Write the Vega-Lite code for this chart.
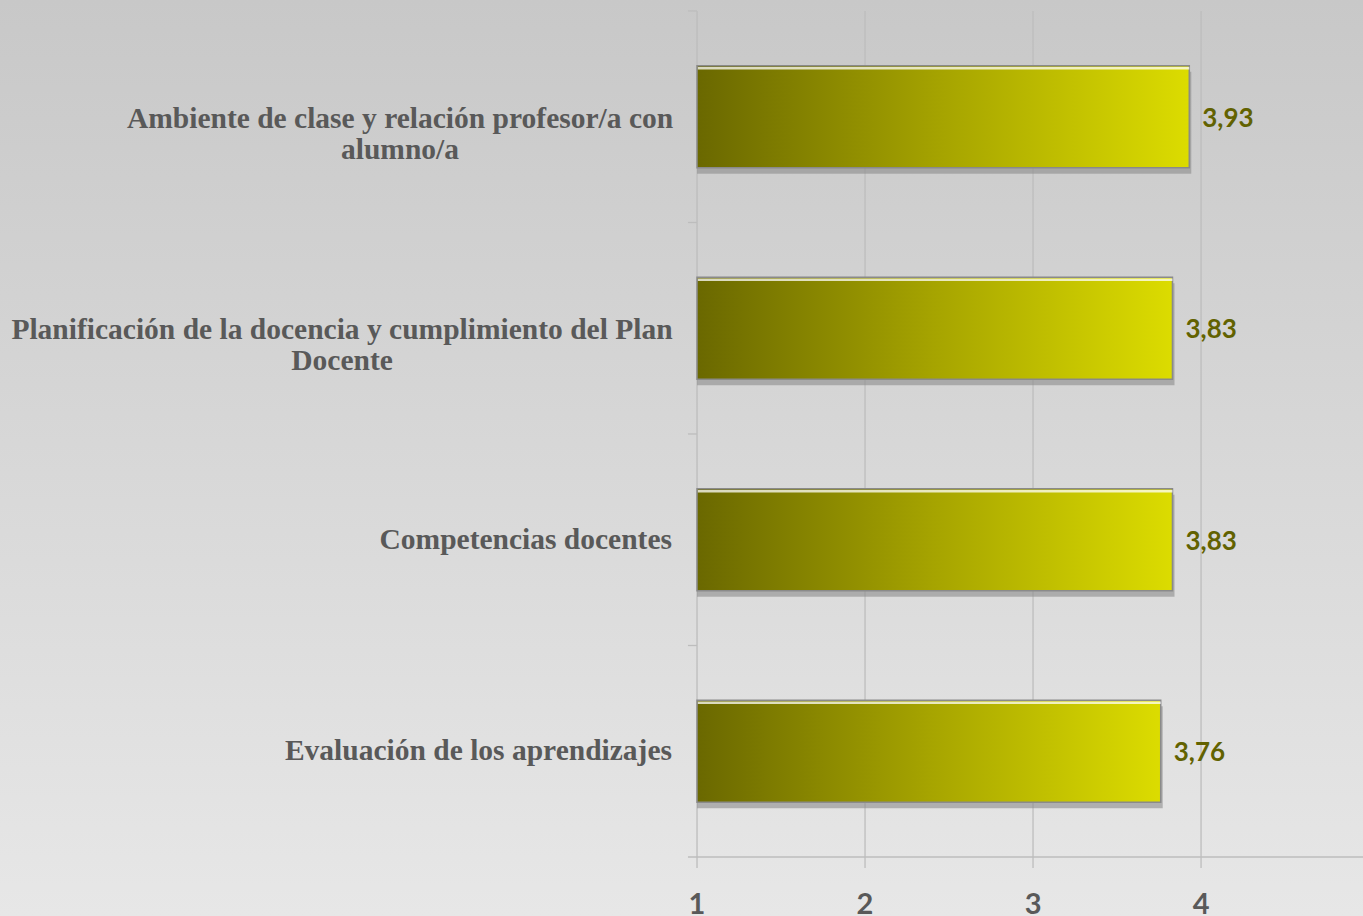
{
  "$schema": "https://vega.github.io/schema/vega-lite/v6.json",
  "width": 1363,
  "height": 916,
  "autosize": "none",
  "padding": 0,
  "background": "#e6e6e6",
  "config": {
    "view": {
      "stroke": null,
      "fill": {"gradient": "linear", "x1": 0, "y1": 0, "x2": 0, "y2": 1, "stops": [{"offset": 0, "color": "#c8c8c8"}, {"offset": 1, "color": "#e7e7e7"}]}
    },
    "axis": {"disable": true}
  },
  "datasets": {
    "bars": [
      {"category": "Ambiente de clase y relación profesor/a con|alumno/a", "value": 3.93, "label": "3,93"},
      {"category": "Planificación de la docencia y cumplimiento del Plan|Docente", "value": 3.83, "label": "3,83"},
      {"category": "Competencias docentes", "value": 3.83, "label": "3,83"},
      {"category": "Evaluación de los aprendizajes", "value": 3.76, "label": "3,76"}
    ],
    "grid": [{"g": 1}, {"g": 2}, {"g": 3}, {"g": 4}]
  },
  "encoding": {
    "y": {
      "field": "category", "type": "nominal", "sort": null, "axis": null,
      "scale": {"domain": [
        "Ambiente de clase y relación profesor/a con|alumno/a",
        "Planificación de la docencia y cumplimiento del Plan|Docente",
        "Competencias docentes",
        "Evaluación de los aprendizajes"
      ], "paddingInner": 0, "paddingOuter": 0.1655, "align": 0.157}
    },
    "x": {
      "field": "value", "type": "quantitative", "axis": null,
      "scale": {"domain": [-3.1488, 4.964], "nice": false, "zero": false}
    }
  },
  "layer": [
    {
      "data": {"name": "grid"},
      "mark": {"type": "rule", "color": "#bdbdbd", "strokeWidth": 1.3},
      "encoding": {
        "x": {"field": "g", "type": "quantitative"},
        "y": {"datum": "Ambiente de clase y relación profesor/a con|alumno/a", "type": "nominal", "bandPosition": 0},
        "y2": {"datum": "Evaluación de los aprendizajes", "bandPosition": 1.052}
      }
    },
    {
      "data": {"name": "bars"},
      "transform": [{"filter": "datum.category == 'Evaluación de los aprendizajes'"}],
      "mark": {"type": "rule", "color": "#bdbdbd", "strokeWidth": 1.3},
      "encoding": {
        "x": {"datum": 0.946},
        "x2": {"datum": 4.964},
        "y": {"field": "category", "type": "nominal", "bandPosition": 1}
      }
    },
    {
      "data": {"name": "bars"},
      "mark": {"type": "rule", "color": "#bdbdbd", "strokeWidth": 1.3},
      "encoding": {
        "x": {"datum": 0.946},
        "x2": {"datum": 1},
        "y": {"field": "category", "type": "nominal", "bandPosition": 0}
      }
    },
    {
      "data": {"name": "grid"},
      "mark": {"type": "text", "align": "center", "baseline": "alphabetic", "dy": 57, "font": "Lato", "fontWeight": "bold", "fontSize": 29, "color": "#595959"},
      "encoding": {
        "x": {"field": "g", "type": "quantitative"},
        "y": {"datum": "Evaluación de los aprendizajes", "type": "nominal", "bandPosition": 1},
        "text": {"field": "g", "type": "quantitative", "format": "d"}
      }
    },
    {
      "data": {"name": "bars"},
      "mark": {"type": "bar", "height": {"band": 0.482}, "yOffset": 6, "xOffset": 2, "fill": "#8c8c8c", "opacity": 0.6},
      "encoding": {
        "x2": {"datum": 1}
      }
    },
    {
      "data": {"name": "bars"},
      "mark": {
        "type": "bar",
        "height": {"band": 0.482},
        "stroke": "#8a8a8a",
        "strokeWidth": 1.5,
        "fill": {"gradient": "linear", "x1": 0, "y1": 0, "x2": 1, "y2": 0, "stops": [{"offset": 0, "color": "#6a6800"}, {"offset": 0.5, "color": "#a6a400"}, {"offset": 1, "color": "#dcdc00"}]}
      },
      "encoding": {
        "x2": {"datum": 1}
      }
    },
    {
      "data": {"name": "bars"},
      "mark": {"type": "rule", "color": "#ffffff", "strokeWidth": 2.5, "opacity": 0.75, "yOffset": 2.5},
      "encoding": {
        "x": {"datum": 1.005},
        "x2": {"field": "value", "type": "quantitative"},
        "y": {"field": "category", "type": "nominal", "bandPosition": 0.259}
      }
    },
    {
      "data": {"name": "bars"},
      "mark": {"type": "text", "align": "left", "baseline": "middle", "dx": 13, "dy": 2, "font": "Lato", "fontWeight": "bold", "fontSize": 26, "color": "#626200"},
      "encoding": {
        "text": {"field": "label"}
      }
    },
    {
      "data": {"name": "bars"},
      "transform": [{"filter": "indexof(datum.category, '|') < 0"}],
      "mark": {"type": "text", "align": "right", "baseline": "middle", "dx": -25, "font": "Liberation Serif", "fontWeight": "bold", "fontSize": 29.5, "color": "#595959"},
      "encoding": {
        "x": {"datum": 1},
        "text": {"field": "category"}
      }
    },
    {
      "data": {"name": "bars"},
      "transform": [{"filter": "indexof(datum.category, 'Ambiente') == 0"}],
      "mark": {"type": "text", "align": "center", "baseline": "middle", "dx": -297, "dy": 2, "lineBreak": "|", "lineHeight": 31, "font": "Liberation Serif", "fontWeight": "bold", "fontSize": 29.5, "color": "#595959"},
      "encoding": {
        "x": {"datum": 1},
        "text": {"field": "category"}
      }
    },
    {
      "data": {"name": "bars"},
      "transform": [{"filter": "indexof(datum.category, 'Planificación') == 0"}],
      "mark": {"type": "text", "align": "center", "baseline": "middle", "dx": -355, "dy": 2, "lineBreak": "|", "lineHeight": 31, "font": "Liberation Serif", "fontWeight": "bold", "fontSize": 29.5, "color": "#595959"},
      "encoding": {
        "x": {"datum": 1},
        "text": {"field": "category"}
      }
    }
  ]
}
